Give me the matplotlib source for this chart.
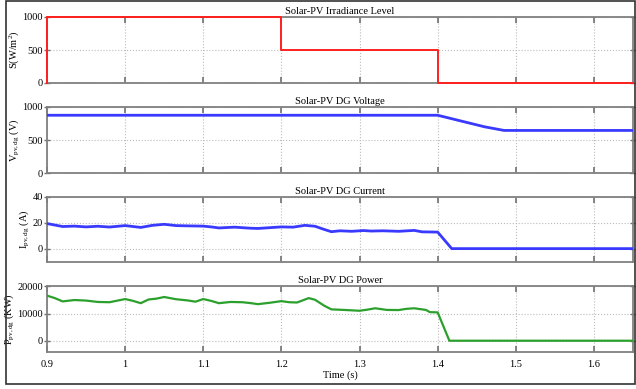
import matplotlib
matplotlib.use("Agg")
import matplotlib.pyplot as plt
from matplotlib.patches import Rectangle

plt.rcParams['font.family'] = ['Liberation Serif', 'DejaVu Serif']
plt.rcParams['mathtext.fontset'] = 'custom'
plt.rcParams['mathtext.rm'] = 'Liberation Serif'
plt.rcParams['mathtext.it'] = 'Liberation Serif'

# ---- data ----
irr_t = [0.9, 0.9, 1.2, 1.2, 1.4, 1.4, 1.65]
irr_v = [0, 1000, 1000, 500, 500, 0, 0]

volt_t = [0.9, 1.4, 1.46, 1.485, 1.65]
volt_v = [875, 875, 700, 645, 645]

cur_t = [0.9, 0.905, 0.92, 0.935, 0.95, 0.965, 0.98, 1.0, 1.01, 1.02, 1.035, 1.05,
         1.065, 1.08, 1.1, 1.11, 1.12, 1.14, 1.16, 1.17, 1.19, 1.2, 1.215, 1.23,
         1.243, 1.255, 1.264, 1.275, 1.29, 1.305, 1.315, 1.33, 1.35, 1.37, 1.38,
         1.4, 1.418, 1.65]
cur_v = [19.5, 19.0, 17.3, 17.6, 17.0, 17.5, 16.9, 18.0, 17.3, 16.6, 18.2, 19.0,
         18.0, 17.8, 17.6, 17.0, 16.2, 16.8, 16.0, 15.8, 16.6, 17.0, 16.8, 18.2,
         17.5, 15.0, 13.3, 14.0, 13.6, 14.2, 13.8, 14.0, 13.6, 14.3, 13.2,
         13.0, 0.3, 0.3]

pow_t = [0.9, 0.91, 0.92, 0.935, 0.95, 0.965, 0.98, 1.0, 1.01, 1.02, 1.03, 1.04,
         1.05, 1.065, 1.08, 1.09, 1.1, 1.11, 1.12, 1.135, 1.15, 1.16, 1.17, 1.185,
         1.2, 1.21, 1.22, 1.235, 1.243, 1.255, 1.264, 1.28, 1.3, 1.31, 1.32,
         1.335, 1.35, 1.36, 1.37, 1.385, 1.39, 1.4, 1.415, 1.65]
pow_v = [16500, 15600, 14400, 14900, 14700, 14200, 14100, 15250, 14600, 13750, 15100, 15400,
         16000, 15200, 14750, 14300, 15250, 14600, 13750, 14200, 14100, 13800, 13400, 13900,
         14500, 14100, 14000, 15600, 15000, 12800, 11500, 11300, 11000, 11400, 11900,
         11300, 11250, 11700, 11900, 11300, 10500, 10400, 100, 100]

titles = ["Solar-PV Irradiance Level", "Solar-PV DG Voltage",
          "Solar-PV DG Current", "Solar-PV DG Power"]
ylabels = [r"S(W/m$^2$)", r"V$_{pv,dg}$ (V)", r"I$_{pv,dg}$ (A)", r"P$_{pv,dg}$ (KW)"]
xticks = [0.9, 1.0, 1.1, 1.2, 1.3, 1.4, 1.5, 1.6]
xticklabels = ["0.9", "1", "1.1", "1.2", "1.3", "1.4", "1.5", "1.6"]

fig = plt.figure(figsize=(6.36, 3.89), dpi=100)
W, H = 636, 389
left, right = 47, 633
panels = [(17, 83), (107, 173), (197, 262), (286, 352)]
ylims = [(0, 1000), (0, 1000), (-10, 40), (-4000, 20000)]
yticks = [[0, 500, 1000], [0, 500, 1000], [0, 20, 40], [0, 10000, 20000]]
series = [(irr_t, irr_v, '#ff2020', 1.4), (volt_t, volt_v, '#3a3aff', 2.0),
          (cur_t, cur_v, '#3a3aff', 2.0), (pow_t, pow_v, '#2ca02c', 1.6)]

for i, (top, bot) in enumerate(panels):
    ax = fig.add_axes([left / W, 1 - bot / H, (right - left) / W, (bot - top) / H])
    t, v, c, lw = series[i]
    ax.plot(t, v, color=c, lw=lw, clip_on=(i != 0), zorder=3)
    ax.set_xlim(0.9, 1.65)
    ax.set_ylim(*ylims[i])
    ax.set_xticks(xticks)
    ax.set_yticks(yticks[i])
    ax.set_yticklabels([str(y) for y in yticks[i]], fontsize=7.5)
    if i == 3:
        ax.set_xticklabels(xticklabels, fontsize=7.5)
        ax.set_xlabel("Time (s)", fontsize=7.5, labelpad=1)
    else:
        ax.set_xticklabels([])
    ax.set_title(titles[i], fontsize=7.5, pad=2.5)
    ax.set_ylabel(ylabels[i], fontsize=7.5, labelpad=1)
    ax.grid(True, color='#bbbbbb', linestyle=':', linewidth=0.8)
    for s in ax.spines.values():
        s.set_color('#808080')
        s.set_linewidth(1.3)
        s.set_zorder(2)
    ax.tick_params(axis='x', direction='in', top=True, length=4, width=1.2,
                   color='#707070', pad=6, labelcolor='black')
    ax.tick_params(axis='y', direction='inout', right=True, length=4, width=1.0,
                   color='#707070', pad=1, labelcolor='black')

fig.patches.append(Rectangle((6 / W, 1 - 384 / H), (635 - 6) / W, 383.5 / H,
                             transform=fig.transFigure, fill=False,
                             edgecolor='#333333', linewidth=1.2))
fig.savefig("out.png", dpi=100)
